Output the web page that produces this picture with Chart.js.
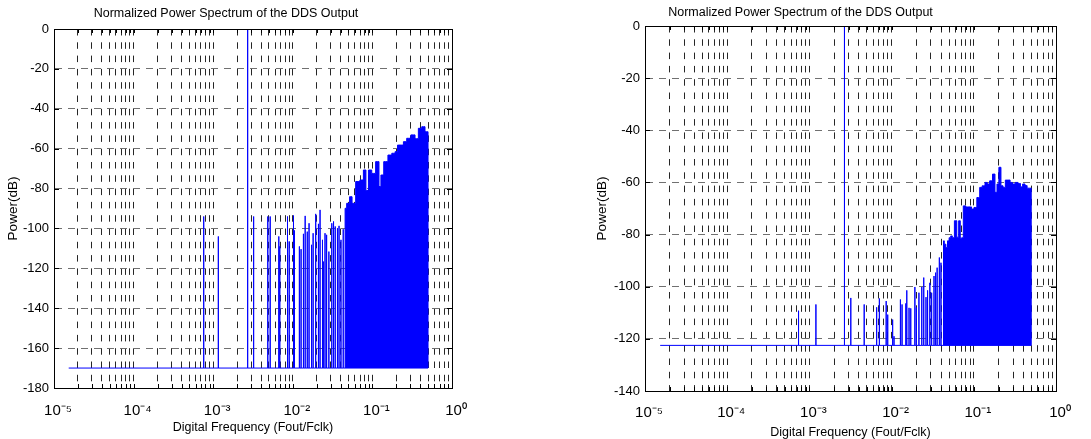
<!DOCTYPE html>
<html>
<head>
  <title>Normalized Power Spectrum of the DDS Output</title>
  <script src="https://cdn.jsdelivr.net/npm/chart.js"></script>
  <style>
    body { margin: 0; background: #fff; }
    #wrap { position: relative; width: 1091px; height: 439px; }
    .panel { position: absolute; top: 0; height: 439px; }
  </style>
</head>
<body>
<div id="wrap">
  <div class="panel" style="left:0;width:545px"><canvas id="specLeft"></canvas></div>
  <div class="panel" style="left:545px;width:546px"><canvas id="specRight"></canvas></div>
</div>

<script>
  const chartTitle = 'Normalized Power Spectrum of the DDS Output';
  const xTitle = 'Digital Frequency (Fout/Fclk)';
  const yTitle = 'Power(dB)';

  // x axis: decades and the minor multipliers in between
  const decades = [-5, -4, -3, -2, -1, 0];
  const minorMult = [2, 3, 4, 5, 6, 7, 8, 9];

  // first and last FFT bin (Fout/Fclk)
  const binStart = 1.53e-5;
  const binEnd = 0.5;

  // left panel: noise floor, isolated spurs, dense spur region (top edge)
  const floorL = -170;
  const spurFreqL = [7.6e-4, 1.16e-3, 2.71e-3, 3.22e-3, 4.85e-3, 5.2e-3, 6.67e-3, 6.86e-3, 8.58e-3, 9.0e-3,
    1.02e-2, 1.05e-2, 1.21e-2, 1.27e-2, 1.36e-2, 1.43e-2, 1.52e-2, 1.6e-2, 1.72e-2, 1.8e-2,
    1.94e-2, 2.1e-2, 2.2e-2, 2.36e-2, 2.42e-2, 2.54e-2, 2.66e-2, 2.84e-2, 3.09e-2, 3.25e-2,
    3.41e-2, 3.64e-2, 3.81e-2, 4.03e-2, 4.3e-2];
  const spurPowL = [-94, -104, 0, -94, -94, -94, -104, -109, -94, -106.5,
    -93.5, -101, -109, -110.4, -102.7, -93.7, -101.6, -97.4, -108.2, -102.4,
    -92.7, -97.7, -90.7, -105.7, -116.6, -102.4, -103.2, -111.6, -97.4, -96.5,
    -99, -99.9, -98.7, -105.7, -100.4];
  const denseFreqL = [0.0454, 0.0497, 0.0537, 0.0574, 0.0662, 0.0734, 0.0809, 0.085, 0.0935, 0.103,
    0.117, 0.125, 0.131, 0.147, 0.167, 0.184, 0.202, 0.212, 0.234, 0.257,
    0.283, 0.327, 0.36, 0.397, 0.437, 0.48, 0.5];
  const densePowL = [-89.9, -87.4, -84.1, -87.4, -76.5, -75.7, -70.7, -81, -70.7, -72.4,
    -66.5, -79, -73.2, -66.5, -63.2, -62.3, -61.5, -58.2, -58.2, -56.5,
    -54.8, -53.1, -55, -49.8, -49, -51.5, -51.5];

  // right panel
  const floorR = -122.5;
  const spurFreqR = [7.38e-4, 1.2e-3, 2.67e-3, 3.19e-3, 4.64e-3, 6.58e-3, 7.1e-3, 8.59e-3, 8.97e-3, 1.03e-2,
    1.07e-2, 1.28e-2, 1.34e-2, 1.49e-2, 1.53e-2, 1.63e-2, 1.71e-2, 1.92e-2, 2.0e-2, 2.15e-2,
    2.33e-2, 2.46e-2, 2.62e-2, 2.74e-2, 2.92e-2, 3.07e-2, 3.28e-2, 3.43e-2, 3.58e-2, 3.81e-2, 3.99e-2];
  const spurPowR = [-109.2, -106.8, 0, -104.3, -106.8, -107.9, -104.5, -105.5, -110.7, -112.6,
    -119, -104.9, -106.8, -106.4, -101.4, -108.1, -108.3, -100.1, -108, -102.3,
    -100.1, -96.5, -104, -101.4, -98.5, -102.3, -95.9, -94.6, -92.7, -88.8, -90.8];
  const denseFreqR = [0.0428, 0.0447, 0.0468, 0.049, 0.0512, 0.0536, 0.056, 0.0602, 0.064, 0.067,
    0.0699, 0.073, 0.076, 0.0835, 0.091, 0.097, 0.104, 0.114, 0.122, 0.131,
    0.143, 0.149, 0.163, 0.175, 0.187, 0.196, 0.208, 0.22, 0.234, 0.25,
    0.267, 0.286, 0.305, 0.334, 0.358, 0.381, 0.405, 0.435, 0.455, 0.5];
  const densePowR = [-82.4, -83.7, -85, -82.4, -81.2, -80.5, -81.2, -74.7, -81, -74.7,
    -81.4, -81.2, -69, -69.4, -69.4, -70.2, -69.6, -65.8, -61.9, -61.3,
    -60, -60.6, -59.4, -56.8, -63.8, -60.6, -54.2, -61.3, -61.9, -59.1,
    -59.1, -60, -60.6, -60, -60.4, -61.7, -60.6, -61.2, -62.2, -62.2];

  const family = '"Liberation Sans", Arial, Helvetica, sans-serif';
  const blue = '#0000ff';

  const xTicks = [];
  decades.forEach((d, i) => {
    xTicks.push(Math.pow(10, d));
    if (i < decades.length - 1) {
      minorMult.forEach(m => xTicks.push(Number((m * Math.pow(10, d)).toPrecision(12))));
    }
  });

  const sup = { '-': '\u207B', '0': '\u2070', '1': '\u00B9', '2': '\u00B2', '3': '\u00B3',
    '4': '\u2074', '5': '\u2075', '6': '\u2076', '7': '\u2077', '8': '\u2078', '9': '\u2079' };

  function decadeLabel(v) {
    const e = Math.round(Math.log10(v));
    if (Math.abs(Math.log10(v) - e) > 1e-9) return '';
    return '10' + String(e).split('').map(c => sup[c]).join('');
  }

  // spectrum drawn as stems standing on the noise floor
  function stems(freqs, pows, floor) {
    const pts = [{ x: binStart, y: floor }];
    freqs.forEach((f, i) => {
      pts.push({ x: f, y: floor }, { x: f, y: pows[i] }, { x: f, y: floor });
    });
    pts.push({ x: binEnd, y: floor });
    return pts;
  }

  function envelope(freqs, pows, floor) {
    return [{ x: freqs[0], y: floor }]
      .concat(freqs.map((f, i) => ({ x: f, y: pows[i] })))
      .concat([{ x: freqs[freqs.length - 1], y: floor }]);
  }

  // matlab style box with inward ticks
  const boxPlugin = {
    id: 'box',
    afterDraw(chart) {
      const { ctx, chartArea: a, scales: { x, y } } = chart;
      ctx.save();
      ctx.strokeStyle = '#000';
      ctx.lineWidth = 1;
      ctx.beginPath();
      x.ticks.forEach(t => {
        const px = Math.round(x.getPixelForValue(t.value)) + 0.5;
        ctx.moveTo(px, a.bottom); ctx.lineTo(px, a.bottom - 4);
        ctx.moveTo(px, a.top); ctx.lineTo(px, a.top + 4);
      });
      y.ticks.forEach(t => {
        const py = Math.round(y.getPixelForValue(t.value)) + 0.5;
        ctx.moveTo(a.left, py); ctx.lineTo(a.left + 5, py);
        ctx.moveTo(a.right, py); ctx.lineTo(a.right - 5, py);
      });
      ctx.stroke();
      ctx.strokeRect(Math.round(a.left) + 0.5, Math.round(a.top) + 0.5,
        Math.round(a.right - a.left), Math.round(a.bottom - a.top));
      ctx.restore();
    }
  };

  function drawPanel(id, p) {
    new Chart(document.getElementById(id), {
      type: 'line',
      data: {
        datasets: [
          {
            data: stems(p.spurFreq, p.spurPow, p.floor),
            borderColor: blue, borderWidth: 1, pointRadius: 0, tension: 0, fill: false
          },
          {
            data: envelope(p.denseFreq, p.densePow, p.floor),
            borderColor: blue, backgroundColor: blue, borderWidth: 1, pointRadius: 0,
            stepped: 'middle', fill: { value: p.floor }
          }
        ]
      },
      options: {
        responsive: true,
        maintainAspectRatio: false,
        animation: false,
        events: [],
        layout: { padding: { left: 0, right: p.padRight, top: 0, bottom: 0 } },
        plugins: {
          legend: { display: false },
          tooltip: { enabled: false },
          title: {
            display: true, text: chartTitle, color: '#000',
            font: { family: family, size: 12.5, weight: 'normal', lineHeight: 1.2 },
            padding: { top: p.titleTop, bottom: p.titleBottom }
          }
        },
        scales: {
          x: {
            type: 'logarithmic', min: 1e-5, max: 1,
            afterBuildTicks: s => { s.ticks = xTicks.map(v => ({ value: v })); },
            afterFit: s => { s.height = p.xHeight; },
            grid: { color: 'rgba(0,0,0,0.85)', lineWidth: 1, drawTicks: false },
            border: { display: true, color: '#000', dash: [6.5, 6.8] },
            ticks: {
              autoSkip: false, maxRotation: 0, minRotation: 0, padding: p.xPad, labelOffset: 4,
              color: '#000', font: { family: family, size: 15 },
              callback: v => decadeLabel(v)
            },
            title: {
              display: true, text: xTitle, color: '#000',
              font: { family: family, size: 12.5, lineHeight: p.xTitleLH },
              padding: { top: 0, bottom: p.xTitlePad }
            }
          },
          y: {
            type: 'linear', min: p.yMin, max: 0,
            afterFit: s => { s.width = p.yWidth; },
            grid: { color: '#707070', lineWidth: 1, drawTicks: false },
            border: { display: true, color: '#000', dash: [7, 6] },
            ticks: { stepSize: 20, padding: 5, color: '#000', font: { family: family, size: 13 } },
            title: {
              display: true, text: yTitle, color: '#000',
              font: { family: family, size: 13.5, lineHeight: 1.2 },
              padding: { top: p.yTitlePad, bottom: 0 }
            }
          }
        }
      },
      plugins: [boxPlugin]
    });
  }

  drawPanel('specLeft', {
    floor: floorL, spurFreq: spurFreqL, spurPow: spurPowL, denseFreq: denseFreqL, densePow: densePowL,
    yMin: -180, yWidth: 54, padRight: 93, xHeight: 51, xPad: 14, xTitlePad: 4, xTitleLH: 1.2,
    titleTop: 6, titleBottom: 8, yTitlePad: 5
  });

  drawPanel('specRight', {
    floor: floorR, spurFreq: spurFreqR, spurPow: spurPowR, denseFreq: denseFreqR, densePow: densePowR,
    yMin: -140, yWidth: 100, padRight: 35, xHeight: 48, xPad: 13, xTitlePad: 0, xTitleLH: 1.0,
    titleTop: 5, titleBottom: 6, yTitlePad: 49
  });
</script>
</body>
</html>
